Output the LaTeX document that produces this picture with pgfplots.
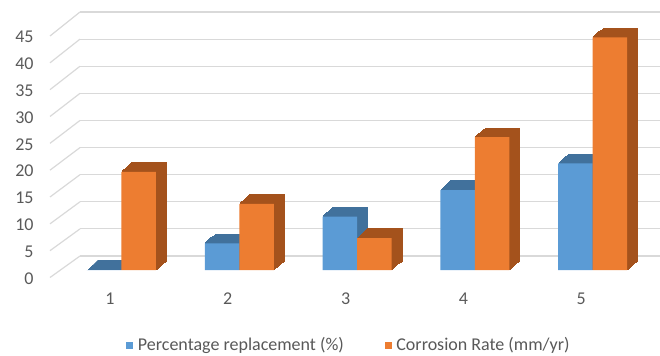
\documentclass[border=0pt]{standalone}
\usepackage{fontspec}
\setmainfont{Carlito}
\usepackage{pgfplots}
\usepackage{pgfplotstable}
\pgfplotsset{compat=1.18}
\definecolor{blueF}{HTML}{5B9BD5}
\definecolor{blueD}{HTML}{41719C}
\definecolor{orangeF}{HTML}{ED7D31}
\definecolor{orangeD}{HTML}{A4521C}
\definecolor{gridc}{HTML}{D9D9D9}
\definecolor{txt}{HTML}{595959}
\pgfplotstableread{
x rep corr
1 0 18.4
2 5 12.4
3 10 6.0
4 15 24.9
5 20 43.6
}\data
\begin{document}
\begin{tikzpicture}
\path[use as bounding box] (0pt,0pt) rectangle (330pt,177.5pt);
% back wall grid
\begin{axis}[at={(40pt,49.5pt)}, anchor=south west, scale only axis,
  width=290pt, height=122pt, xmin=0, xmax=1, ymin=0, ymax=45,
  ytick={0,5,...,45}, yticklabels={}, xtick=\empty,
  ymajorgrids, grid style={gridc, line width=0.6pt},
  axis line style={draw=none}, major tick length=0pt]
\end{axis}
% diagonal floor/wall lines
\foreach \v in {0,5,...,45}{
  \draw[gridc, line width=0.6pt] (25pt,{(77.5+5.367*\v)*0.5pt}) -- (40pt,{(99+5.422*\v)*0.5pt});
}
% front tick labels
\begin{axis}[at={(17pt,38.25pt)}, anchor=south west, scale only axis,
  width=1pt, height=120.75pt, xmin=0, xmax=1, ymin=0, ymax=45,
  ytick={0,5,...,45}, xtick=\empty, axis line style={draw=none},
  major tick length=0pt, /pgf/number format/assume math mode=true,
  yticklabel style={anchor=east, inner sep=0pt, font=\fontsize{9}{10}\selectfont, text=txt}]
\end{axis}
% bars
\begin{axis}[at={(31.3pt,42.5pt)}, anchor=south west, scale only axis,
  width=294.5pt, height=120pt, xmin=0.5, xmax=5.5, ymin=0, ymax=45,
  clip=false, ytick=\empty, xtick={1,...,5},
  axis line style={draw=none}, major tick length=0pt,
  /pgf/number format/assume math mode=true,
  xticklabel style={anchor=center, yshift=-14.5pt, xshift=-5.75pt, font=\fontsize{9}{10}\selectfont, text=txt},
  legend image code/.code={\fill[#1] (0pt,-1.75pt) rectangle (3.5pt,1.75pt); \path (4.3pt,0pt);},
  legend style={at={(0.1076,-0.3125)}, anchor=west, draw=none, inner sep=0pt,
    legend columns=2, font=\fontsize{9}{10}\selectfont, text=txt,
    /tikz/every even column/.append style={column sep=19pt},
    nodes={inner sep=1.5pt}}]
\pgfplotsinvokeforeach{1,...,10}{
  \addplot[ybar, bar width=17.25pt, bar shift=-8.625pt, fill=blueD, draw=blueD, line width=0.6pt,
    xshift=#1*0.525pt, yshift=#1*0.45pt, forget plot] table[x=x,y=rep]{\data};
}
\addplot[ybar, bar width=17.25pt, bar shift=-8.625pt, fill=blueF, draw=none, forget plot] table[x=x,y=rep]{\data};
\pgfplotsinvokeforeach{1,...,10}{
  \addplot[ybar, bar width=17.25pt, bar shift=8.625pt, fill=orangeD, draw=orangeD, line width=0.6pt,
    xshift=#1*0.525pt, yshift=#1*0.45pt, forget plot] table[x=x,y=corr]{\data};
}
\addplot[ybar, bar width=17.25pt, bar shift=8.625pt, fill=orangeF, draw=none, forget plot] table[x=x,y=corr]{\data};
\addlegendimage{fill=blueF, draw=none}
\addlegendentry{Percentage replacement (\%)}
\addlegendimage{fill=orangeF, draw=none}
\addlegendentry{Corrosion Rate (mm/yr)}
\end{axis}
\end{tikzpicture}
\end{document}
